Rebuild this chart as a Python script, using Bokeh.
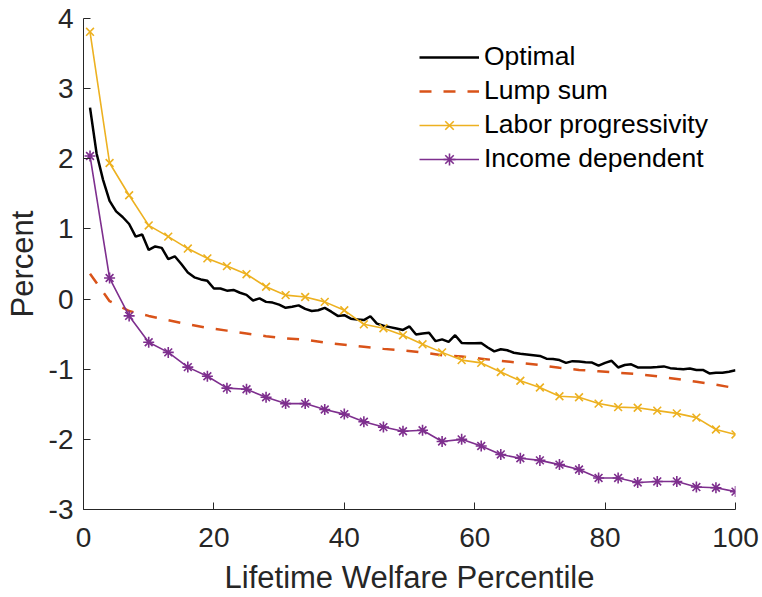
from bokeh.plotting import figure
from bokeh.models import Legend, LegendItem, FixedTicker
from bokeh.embed import file_html
from bokeh.resources import INLINE

# ---------------- data ----------------
pct_all = list(range(1, 101))
optimal = [2.73, 2.08, 1.70, 1.40, 1.25, 1.17, 1.07, 0.89, 0.92, 0.70,
           0.75, 0.73, 0.57, 0.61, 0.50, 0.38, 0.31, 0.28, 0.26, 0.15,
           0.15, 0.12, 0.13, 0.09, 0.06, -0.02, 0.01, -0.04, -0.05, -0.08,
           -0.125, -0.11, -0.09, -0.14, -0.17, -0.16, -0.125, -0.18, -0.24, -0.23,
           -0.28, -0.29, -0.30, -0.245, -0.35, -0.38, -0.40, -0.42, -0.44, -0.39,
           -0.505, -0.49, -0.48, -0.60, -0.575, -0.61, -0.515, -0.625, -0.63, -0.63,
           -0.625, -0.69, -0.745, -0.715, -0.73, -0.765, -0.78, -0.79, -0.80, -0.81,
           -0.85, -0.855, -0.87, -0.91, -0.885, -0.89, -0.90, -0.905, -0.95, -0.91,
           -0.88, -0.975, -0.94, -0.93, -0.975, -0.975, -0.975, -0.97, -0.96, -0.985,
           -0.995, -1.0, -0.99, -1.01, -1.01, -1.06, -1.05, -1.05, -1.035, -1.015]

pct_step = list(range(1, 101, 3))
lump_sum = [0.36, -0.03, -0.17, -0.24, -0.30, -0.36, -0.41, -0.45, -0.49, -0.53,
            -0.56, -0.58, -0.62, -0.65, -0.68, -0.71, -0.73, -0.76, -0.80, -0.82,
            -0.85, -0.88, -0.91, -0.94, -0.98, -1.01, -1.03, -1.05, -1.07, -1.10,
            -1.14, -1.18, -1.22, -1.27]
labor_prog = [3.81, 1.94, 1.48, 1.05, 0.89, 0.72, 0.58, 0.47, 0.355, 0.175,
              0.056, 0.03, -0.04, -0.16, -0.36, -0.415, -0.515, -0.645, -0.76, -0.87,
              -0.91, -1.04, -1.165, -1.26, -1.385, -1.40, -1.49, -1.54, -1.55, -1.59,
              -1.63, -1.69, -1.86, -1.93]
income_dep = [2.04, 0.30, -0.24, -0.615, -0.76, -0.97, -1.10, -1.27, -1.285, -1.40,
              -1.49, -1.49, -1.575, -1.64, -1.75, -1.825, -1.885, -1.87, -2.03, -2.0,
              -2.095, -2.215, -2.27, -2.30, -2.36, -2.43, -2.55, -2.55, -2.615, -2.60,
              -2.60, -2.68, -2.69, -2.745]

x_ticks = [0, 20, 40, 60, 80, 100]
y_ticks = [-3, -2, -1, 0, 1, 2, 3, 4]
y_tick_labels = ["-3", "-2", "-1", "0", "1", "2", "3", "4"]
series_names = ["Optimal", "Lump sum", "Labor progressivity", "Income dependent"]

# ---------------- figure ----------------
FONT = "Liberation Sans"
AX = "#262626"

p = figure(width=762, height=597, x_range=(0, 100), y_range=(-3, 4),
           output_backend="svg", toolbar_location=None,
           min_border_left=83, min_border_right=27,
           min_border_top=18, min_border_bottom=88)
p.outline_line_color = None
p.xgrid.visible = False
p.ygrid.visible = False
p.background_fill_color = "white"
p.border_fill_color = "white"

r_opt = p.line(pct_all, optimal, line_color="black", line_width=2.5)
r_lump = p.line(pct_step, lump_sum, line_color="#D95319", line_width=2.5,
                line_dash="12 12")
r_lab = p.line(pct_step, labor_prog, line_color="#EDB120", line_width=1.6)
r_lab_m = p.scatter(pct_step, labor_prog, marker="x", size=11,
                    line_color="#EDB120", line_width=1.6)
r_inc = p.line(pct_step, income_dep, line_color="#7E2F8E", line_width=1.6)
r_inc_m = p.scatter(pct_step, income_dep, marker="asterisk", size=11,
                    line_color="#7E2F8E", line_width=1.6)

for ax in (p.xaxis[0], p.yaxis[0]):
    ax.axis_line_color = AX
    ax.axis_line_width = 1
    ax.major_tick_line_color = AX
    ax.major_tick_in = 7
    ax.major_tick_out = 0
    ax.minor_tick_line_color = None
    ax.major_label_text_font = FONT
    ax.major_label_text_font_size = "28px"
    ax.major_label_text_color = AX
    ax.axis_label_text_font = FONT
    ax.axis_label_text_font_size = "31px"
    ax.axis_label_text_color = AX
    ax.axis_label_text_font_style = "normal"

p.xaxis[0].ticker = FixedTicker(ticks=x_ticks)
p.yaxis[0].ticker = FixedTicker(ticks=y_ticks)
p.yaxis[0].major_label_overrides = {t: s for t, s in zip(y_ticks, y_tick_labels)}
p.xaxis[0].axis_label = "Lifetime Welfare Percentile"
p.yaxis[0].axis_label = "Percent"
p.xaxis[0].major_label_standoff = 18
p.yaxis[0].major_label_standoff = 10
p.xaxis[0].axis_label_standoff = 10
p.yaxis[0].axis_label_standoff = 6

legend = Legend(items=[
    LegendItem(label=series_names[0], renderers=[r_opt]),
    LegendItem(label=series_names[1], renderers=[r_lump]),
    LegendItem(label=series_names[2], renderers=[r_lab, r_lab_m]),
    LegendItem(label=series_names[3], renderers=[r_inc, r_inc_m]),
], location=(336, 335))
legend.label_text_font = FONT
legend.label_text_font_size = "26.5px"
legend.label_text_color = "black"
legend.glyph_width = 60
legend.glyph_height = 30
legend.label_height = 30
legend.label_standoff = 5
legend.spacing = 3
legend.padding = 0
legend.margin = 0
legend.border_line_color = None
legend.background_fill_alpha = 0
p.add_layout(legend, "center")

open("out.html", "w").write(file_html(p, INLINE))
